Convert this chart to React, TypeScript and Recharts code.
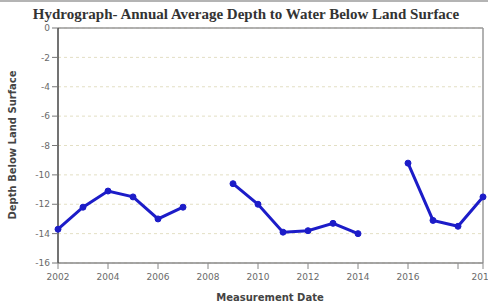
import React from 'react';
import { LineChart, Line, XAxis, YAxis, CartesianGrid, ReferenceLine, Label } from 'recharts';

const years = [2002, 2003, 2004, 2005, 2006, 2007, 2008, 2009, 2010, 2011, 2012, 2013, 2014, 2015, 2016, 2017, 2018, 2019];
const depths: (number | null)[] = [-13.7, -12.2, -11.1, -11.5, -13.0, -12.2, null, -10.6, -12.0, -13.9, -13.8, -13.3, -14.0, null, -9.2, -13.1, -13.5, -11.5];
const xTicks = [2002, 2004, 2006, 2008, 2010, 2012, 2014, 2016, 2018, 2019];
const yTicks = [0, -2, -4, -6, -8, -10, -12, -14, -16];
const title = 'Hydrograph- Annual Average Depth to Water Below Land Surface';
const xTitle = 'Measurement Date';
const yTitle = 'Depth Below Land Surface';

const data = years.map((y, i) => ({ year: y, depth: depths[i] }));

const tickStyle = { fontFamily: 'DejaVu Sans', fontSize: 9, fill: '#6a6a6a' };

export default function App() {
  return (
    <div style={{ position: 'absolute', left: 0, top: 0, width: 488, height: 305, background: '#fff', overflow: 'hidden' }}>
      <div style={{ position: 'absolute', left: 0, top: 0, width: 488, height: 2, background: '#b4b4b4' }} />
      <svg width={488} height={28} style={{ position: 'absolute', left: 0, top: 0 }}>
        <text x={246} y={19} textAnchor="middle" fontFamily="Liberation Serif" fontWeight="bold" fontSize={15} fill="#333">{title}</text>
      </svg>
      <div style={{ position: 'absolute', left: 0, top: 0 }}>
        <LineChart width={488} height={305} data={data} margin={{ top: 28, right: 5, bottom: 12, left: 18 }}>
          <CartesianGrid vertical={false} stroke="#e3dfc4" strokeDasharray="3 3" />
          <XAxis
            dataKey="year"
            type="number"
            domain={[2002, 2019]}
            ticks={xTicks}
            interval={0}
            tickFormatter={(v: number) => (v === 2018 ? '' : String(v))}
            tick={{ ...tickStyle, dy: 3 }}
            tickLine={{ stroke: '#888' }}
            tickSize={6}
            axisLine={{ stroke: '#888', strokeWidth: 1.5 }}
            height={30}
          >
            <Label
              content={() => (
                <text x={270} y={301} textAnchor="middle" fontFamily="DejaVu Sans" fontWeight="bold" fontSize={10} fill="#444">{xTitle}</text>
              )}
            />
          </XAxis>
          <YAxis
            type="number"
            domain={[-16, 0]}
            ticks={yTicks}
            interval={0}
            tick={tickStyle}
            tickLine={{ stroke: '#777' }}
            tickSize={6}
            axisLine={{ stroke: '#444', strokeWidth: 1.5 }}
            width={40}
          >
            <Label
              content={() => (
                <text x={16} y={145} textAnchor="middle" transform="rotate(-90 16 145)" fontFamily="DejaVu Sans" fontWeight="bold" fontSize={10} fill="#444">{yTitle}</text>
              )}
            />
          </YAxis>
          <ReferenceLine y={0} stroke="#999" strokeWidth={1.5} />
          <ReferenceLine x={2019} stroke="#999" strokeWidth={1.5} />
          <Line
            type="linear"
            dataKey="depth"
            stroke="#1c1cc8"
            strokeWidth={3}
            dot={{ r: 3, fill: '#1c1cc8', stroke: '#1c1cc8', strokeWidth: 1 }}
            connectNulls={false}
            isAnimationActive={false}
          />
        </LineChart>
      </div>
    </div>
  );
}
